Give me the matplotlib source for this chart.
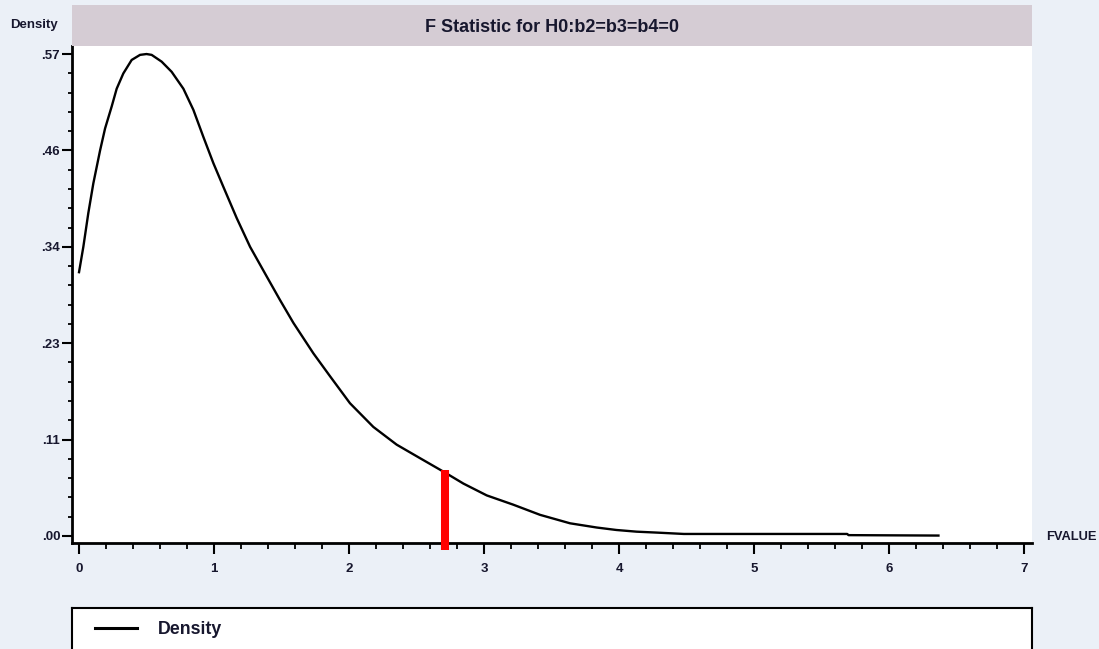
import matplotlib
matplotlib.use("Agg")
import matplotlib.pyplot as plt
from matplotlib.ticker import FixedLocator, MultipleLocator
from matplotlib.patches import Rectangle

# Estimated density of the F statistic
fvalue = [0.0, 0.032, 0.069, 0.106, 0.156, 0.193, 0.242, 0.279, 0.328, 0.390,
          0.452, 0.500, 0.538, 0.612, 0.686, 0.773, 0.847, 0.921, 0.995, 1.069,
          1.168, 1.267, 1.390, 1.489, 1.588, 1.736, 1.859, 2.007, 2.180, 2.353,
          2.526, 2.711, 2.847, 3.020, 3.217, 3.415, 3.637, 3.835, 3.980, 4.130,
          4.280, 4.480, 5.690, 5.700, 6.366]
density = [0.312, 0.342, 0.382, 0.417, 0.456, 0.482, 0.508, 0.529, 0.547, 0.563,
           0.569, 0.570, 0.569, 0.561, 0.549, 0.529, 0.504, 0.472, 0.441, 0.413,
           0.376, 0.342, 0.307, 0.279, 0.252, 0.216, 0.189, 0.157, 0.129, 0.108,
           0.092, 0.075, 0.062, 0.048, 0.037, 0.025, 0.015, 0.010, 0.0071, 0.0051,
           0.0040, 0.0024, 0.0024, 0.0010, 0.0005]

# Observed F value marker
f_observed = 2.711
f_marker_top = 0.078
f_marker_bottom = -0.0166

title = "F Statistic for H0:b2=b3=b4=0"
y_ticks = [0.0, 0.114, 0.228, 0.342, 0.456, 0.570]
y_tick_labels = [".00", ".11", ".23", ".34", ".46", ".57"]
x_ticks = [0, 1, 2, 3, 4, 5, 6, 7]

W, H = 1099, 649
BG = "#ebf0f7"
BAND = "#d5ccd4"
TXT = "#17172e"

plt.rcParams["font.family"] = ["Liberation Sans", "DejaVu Sans"]

fig = plt.figure(figsize=(W / 100, H / 100), dpi=100, facecolor=BG)

def fx(px):
    return px / W

def fy(py):
    return 1 - py / H

# Title band
fig.patches.append(Rectangle((fx(72), fy(46)), fx(1032) - fx(72), fy(5) - fy(46),
                             transform=fig.transFigure, facecolor=BAND,
                             edgecolor="none", zorder=0))
fig.text(fx(552), fy(27), title, ha="center", va="center",
         fontsize=13, fontweight="bold", color=TXT)

# Main plot
ax = fig.add_axes([fx(72), fy(543), fx(1032) - fx(72), fy(46) - fy(543)])
ax.set_facecolor("white")
ax.plot(fvalue, density, color="black", lw=1.7, solid_joinstyle="round",
        label="Density", zorder=3)
ax.vlines(f_observed, f_marker_bottom, f_marker_top, colors="#ff0000",
          lw=5.8, capstyle="butt", clip_on=False, zorder=4)

ax.set_xlim(-0.052, 7.059)
ax.set_ylim(-0.0083, 0.5795)

for s in ("top", "right"):
    ax.spines[s].set_visible(False)
for s in ("left", "bottom"):
    ax.spines[s].set_linewidth(2.0)
    ax.spines[s].set_color("black")

ax.yaxis.set_major_locator(FixedLocator(y_ticks))
ax.yaxis.set_minor_locator(FixedLocator(
    [y_ticks[i] + k * 0.0228 for i in range(5) for k in range(1, 5)]))
ax.set_yticklabels(y_tick_labels)
ax.xaxis.set_major_locator(FixedLocator(x_ticks))
ax.xaxis.set_minor_locator(MultipleLocator(0.2))

ax.tick_params(axis="y", which="major", length=7, width=1.5, pad=1.5,
               labelsize=9.5, labelcolor=TXT)
ax.tick_params(axis="y", which="minor", length=3, width=1.3)
ax.tick_params(axis="x", which="major", length=8, width=1.5, pad=6.5,
               labelsize=9.5, labelcolor=TXT)
ax.tick_params(axis="x", which="minor", length=4, width=1.3)
for lab in ax.get_xticklabels() + ax.get_yticklabels():
    lab.set_fontweight("bold")

fig.text(fx(10), fy(25), "Density", ha="left", va="center",
         fontsize=9.5, fontweight="bold", color=TXT)
fig.text(fx(1046), fy(537), "FVALUE", ha="left", va="center",
         fontsize=9.3, fontweight="bold", color=TXT)

# Legend box
lax = fig.add_axes([fx(72), 0, fx(1032) - fx(72), fy(608)])
lax.set_facecolor("white")
lax.set_xticks([])
lax.set_yticks([])
lax.spines["bottom"].set_visible(False)
for s in ("top", "left", "right"):
    lax.spines[s].set_linewidth(1.5)
handles, labels = ax.get_legend_handles_labels()
leg = lax.legend(handles, labels, loc="center left",
                 bbox_to_anchor=(23 / 960, 1 - 22 / 41),
                 borderaxespad=0, borderpad=0,
                 frameon=False, handlelength=2.35, handletextpad=1.2,
                 prop={"weight": "bold", "size": 12.8})
for t in leg.get_texts():
    t.set_color(TXT)
for h in leg.get_lines():
    h.set_linewidth(2.2)

fig.savefig("out.png", dpi=100, facecolor=BG)
